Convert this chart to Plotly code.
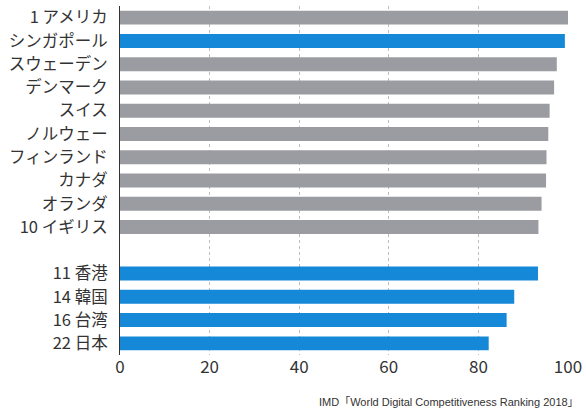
import plotly.graph_objects as go

# IMD World Digital Competitiveness Ranking 2018 scores
top10_labels = ["1 アメリカ", "シンガポール", "スウェーデン", "デンマーク", "スイス",
                "ノルウェー", "フィンランド", "カナダ", "オランダ", "10 イギリス"]
top10_scores = [100.0, 99.3, 97.5, 96.9, 95.9, 95.6, 95.2, 95.1, 94.1, 93.4]
top10_colors = ["#9b9ca1", "#1588d8", "#9b9ca1", "#9b9ca1", "#9b9ca1",
                "#9b9ca1", "#9b9ca1", "#9b9ca1", "#9b9ca1", "#9b9ca1"]

asia_labels = ["11 香港", "14 韓国", "16 台湾", "22 日本"]
asia_scores = [93.3, 88.0, 86.3, 82.3]
asia_color = "#1588d8"

spacer = " "
category_order = top10_labels + [spacer] + asia_labels
x_ticks = [0, 20, 40, 60, 80, 100]

fig = go.Figure()
fig.add_trace(go.Bar(
    y=top10_labels, x=top10_scores, orientation="h",
    marker=dict(color=top10_colors, line=dict(width=0)),
    width=0.6, showlegend=False, hoverinfo="x+y",
))
fig.add_trace(go.Bar(
    y=asia_labels, x=asia_scores, orientation="h",
    marker=dict(color=asia_color, line=dict(width=0)),
    width=0.6, showlegend=False, hoverinfo="x+y",
))

fig.update_layout(
    width=586, height=412,
    margin=dict(l=120, r=16, t=4, b=57),
    paper_bgcolor="white", plot_bgcolor="white",
    font=dict(family="Noto Sans CJK JP, Noto Sans, sans-serif", color="#333333"),
    barmode="overlay",
    xaxis=dict(
        range=[0, 100], tickvals=x_ticks, ticktext=[str(v) for v in x_ticks],
        showgrid=True, gridcolor="#bdbdbd", griddash="dot", gridwidth=1,
        zeroline=False, showline=False, ticks="",
        tickfont=dict(size=17, color="#333333"),
    ),
    yaxis=dict(
        type="category", categoryorder="array", categoryarray=category_order,
        autorange="reversed",
        showgrid=False, zeroline=False,
        showline=True, linecolor="#333333", linewidth=1,
        ticks="", ticklabelstandoff=8,
        tickfont=dict(size=16.5, color="#333333"),
    ),
    annotations=[dict(
        text="IMD「World Digital Competitiveness Ranking 2018」",
        xref="paper", yref="paper", x=1.03, y=-0.134,
        xanchor="right", yanchor="middle", showarrow=False,
        font=dict(size=11, color="#333333",
                  family="Liberation Sans, Noto Sans CJK JP, sans-serif"),
    )],
)

fig.write_html("out.html")
